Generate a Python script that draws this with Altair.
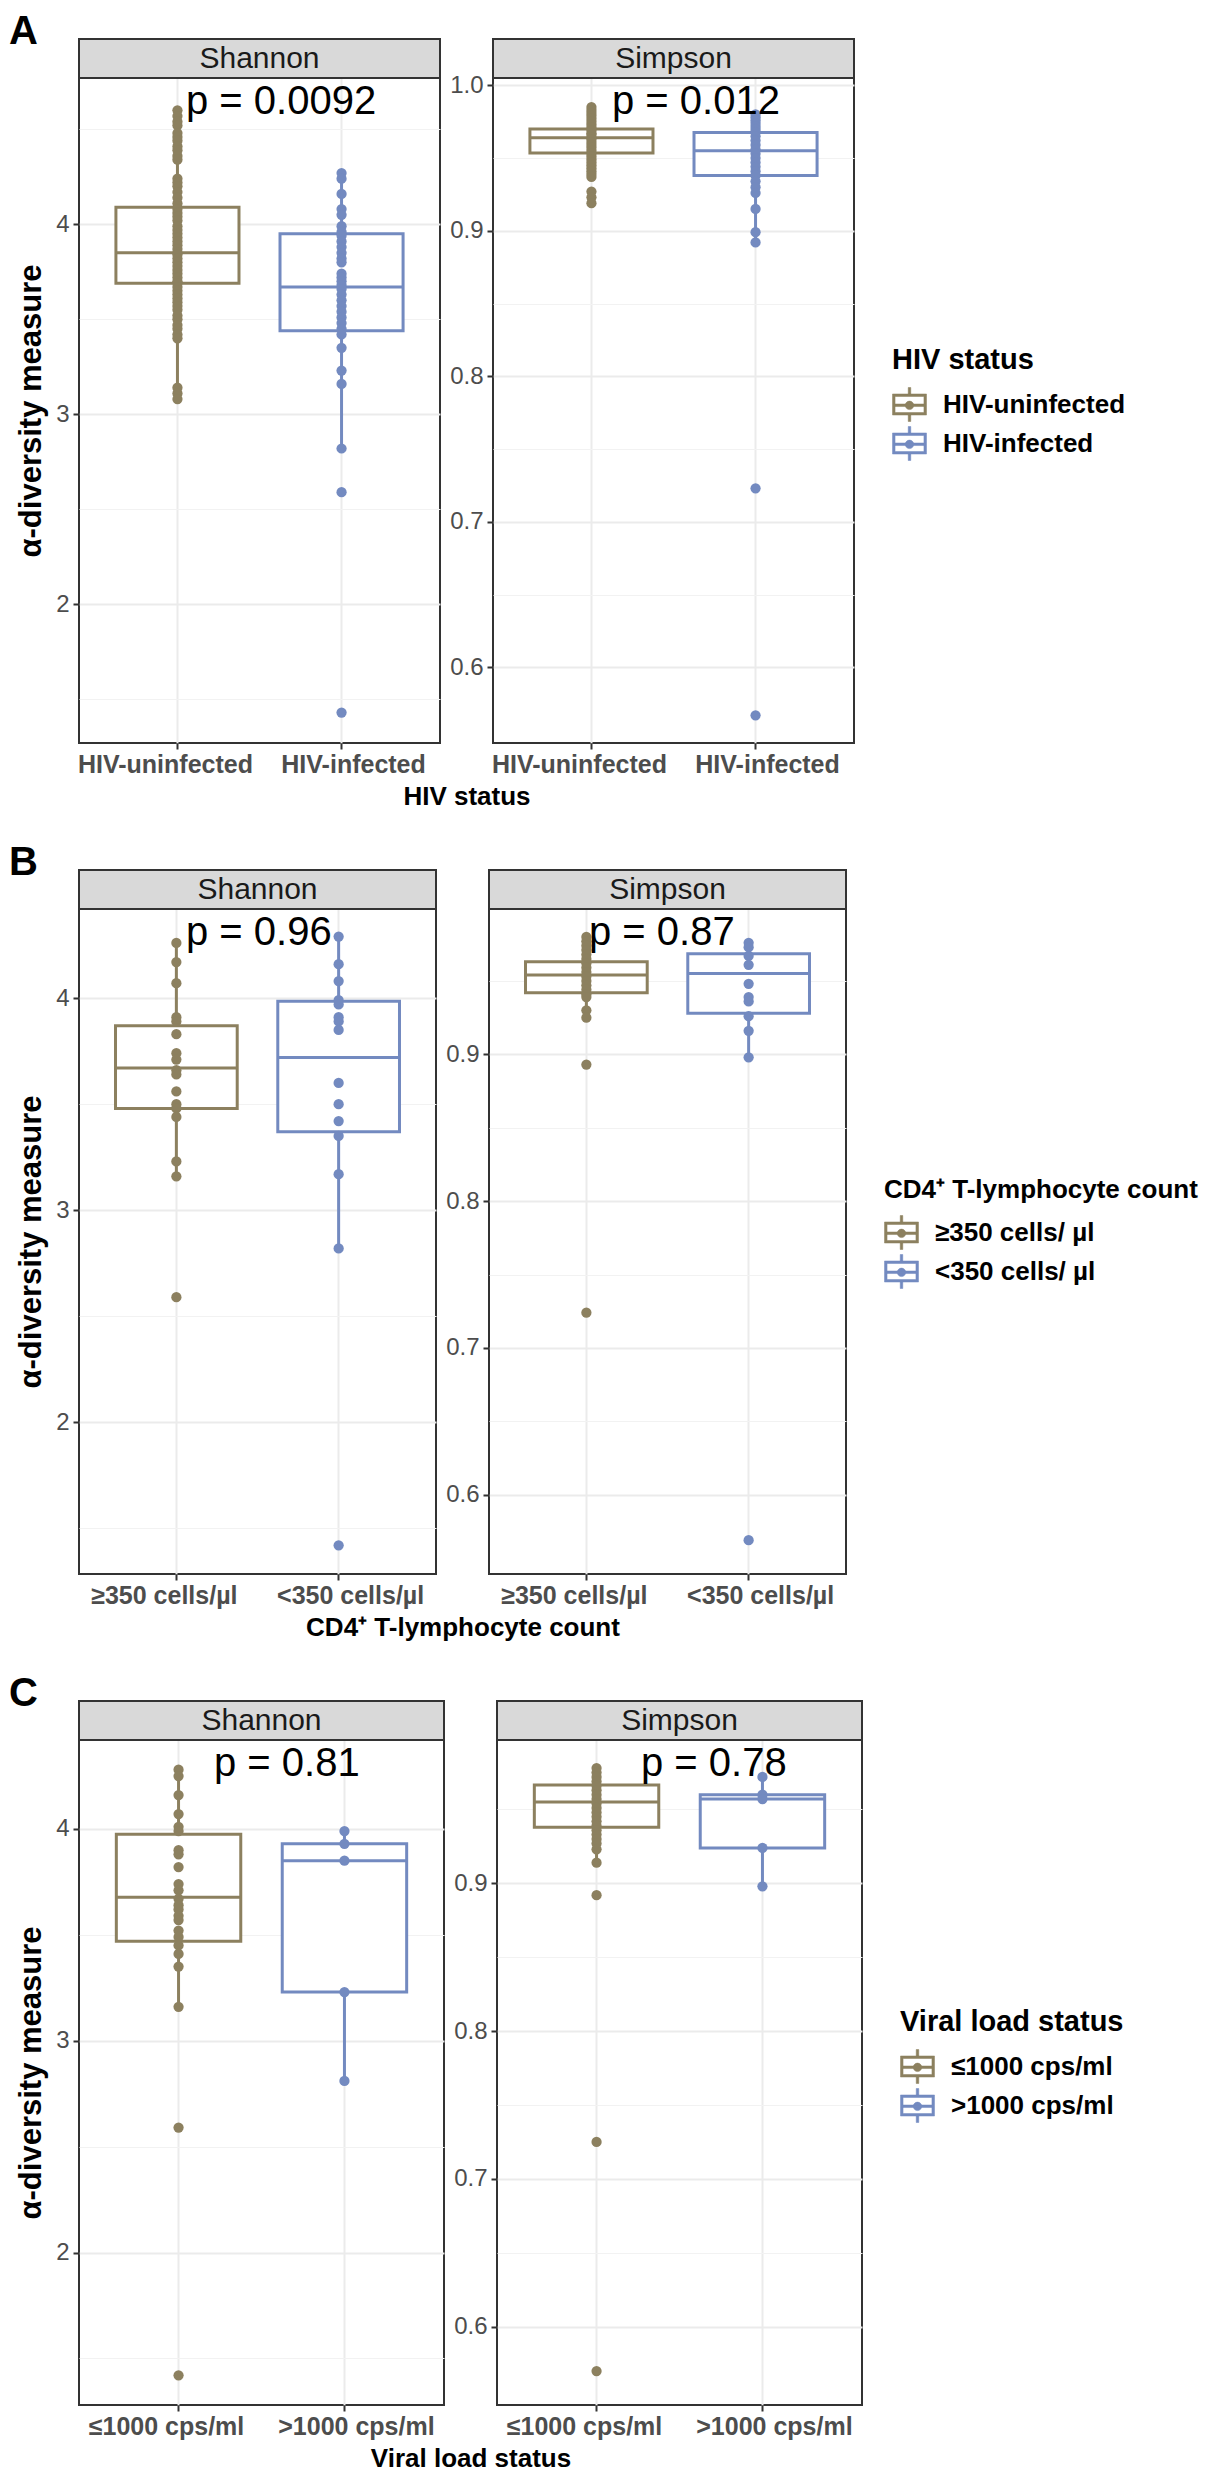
import altair as alt
import pandas as pd

# ---------------- data ----------------
hiv_groups = ["HIV-uninfected", "HIV-infected"]
cd4_groups = ["≥350 cells/µl", "<350 cells/µl"]
vl_groups = ["≤1000 cps/ml", ">1000 cps/ml"]
colors = ["#8C805F", "#738AC0"]

# Panel A
a_sh_uninf = [4.60, 4.57, 4.54, 4.52, 4.48, 4.46, 4.44, 4.41, 4.39, 4.36, 4.34, 4.24, 4.22, 4.20,
              4.17, 4.14, 4.11, 4.08, 4.06, 4.04, 4.02, 3.99, 3.97, 3.95, 3.93, 3.91, 3.89, 3.87,
              3.85, 3.84, 3.82, 3.80, 3.78, 3.76, 3.74, 3.72, 3.70, 3.69, 3.67, 3.65, 3.63, 3.61,
              3.59, 3.57, 3.55, 3.52, 3.50, 3.47, 3.45, 3.42, 3.40, 3.14, 3.11, 3.08]
a_sh_inf = [4.27, 4.24, 4.16, 4.08, 4.05, 3.99, 3.96, 3.94, 3.91, 3.88, 3.85, 3.82, 3.80, 3.74,
            3.72, 3.70, 3.68, 3.66, 3.63, 3.60, 3.57, 3.54, 3.51, 3.48, 3.45, 3.42, 3.35, 3.23,
            3.16, 2.82, 2.59, 1.43]
a_si_uninf = [0.985, 0.983, 0.981, 0.979, 0.977, 0.975, 0.973, 0.971, 0.969, 0.967, 0.966, 0.964,
              0.963, 0.961, 0.959, 0.957, 0.955, 0.953, 0.951, 0.949, 0.947, 0.945, 0.943, 0.941,
              0.939, 0.937, 0.927, 0.923, 0.919]
a_si_inf = [0.980, 0.978, 0.976, 0.974, 0.972, 0.970, 0.968, 0.965, 0.962, 0.959, 0.956, 0.953,
            0.950, 0.947, 0.944, 0.941, 0.938, 0.934, 0.930, 0.926, 0.915, 0.899, 0.892, 0.723, 0.567]
# box stats: q1, median, q3, whisker low, whisker high
a_sh_stats = [[3.69, 3.85, 4.09, 3.07, 4.60], [3.44, 3.67, 3.95, 2.82, 4.27]]
a_si_stats = [[0.9535, 0.964, 0.970, 0.935, 0.985], [0.938, 0.955, 0.9675, 0.892, 0.980]]

# Panel B
b_sh_hi = [4.26, 4.17, 4.07, 3.91, 3.89, 3.83, 3.74, 3.71, 3.66, 3.64, 3.56, 3.50, 3.48, 3.44,
           3.23, 3.16, 2.59]
b_sh_lo = [4.29, 4.16, 4.08, 3.99, 3.97, 3.91, 3.89, 3.85, 3.60, 3.50, 3.42, 3.35, 3.17, 2.82, 1.42]
b_si_hi = [0.980, 0.977, 0.974, 0.971, 0.968, 0.965, 0.962, 0.959, 0.956, 0.953, 0.950, 0.947,
           0.944, 0.941, 0.939, 0.930, 0.925, 0.893, 0.724]
b_si_lo = [0.976, 0.973, 0.967, 0.961, 0.948, 0.939, 0.936, 0.926, 0.916, 0.898, 0.569]
b_sh_stats = [[3.48, 3.67, 3.87, 3.16, 4.26], [3.37, 3.72, 3.985, 2.82, 4.29]]
b_si_stats = [[0.942, 0.954, 0.963, 0.925, 0.980], [0.928, 0.955, 0.9686, 0.898, 0.976]]

# Panel C
c_sh_le = [4.28, 4.25, 4.16, 4.07, 4.01, 3.99, 3.90, 3.88, 3.82, 3.74, 3.71, 3.67, 3.64, 3.62,
           3.59, 3.57, 3.52, 3.49, 3.45, 3.41, 3.35, 3.16, 2.59, 1.42]
c_sh_gt = [3.99, 3.93, 3.85, 3.23, 2.81]
c_si_le = [0.978, 0.975, 0.972, 0.969, 0.966, 0.963, 0.960, 0.957, 0.954, 0.951, 0.948, 0.945,
           0.942, 0.939, 0.936, 0.933, 0.930, 0.927, 0.923, 0.914, 0.892, 0.725, 0.570]
c_si_gt = [0.972, 0.960, 0.957, 0.924, 0.898]
c_sh_stats = [[3.47, 3.677, 3.975, 3.16, 4.28], [3.23, 3.85, 3.93, 2.81, 3.99]]
c_si_stats = [[0.938, 0.955, 0.9665, 0.914, 0.978], [0.924, 0.957, 0.960, 0.898, 0.972]]

# axis ranges and tick values
a_sh_domain, a_si_domain = [1.27, 4.77], [0.548, 1.005]
b_sh_domain, b_si_domain = [1.285, 4.42], [0.546, 0.999]
c_sh_domain, c_si_domain = [1.28, 4.42], [0.547, 0.997]
sh_ticks_a = [1.5, 2, 2.5, 3, 3.5, 4, 4.5]
sh_ticks_bc = [1.5, 2, 2.5, 3, 3.5, 4]
si_ticks_a = [0.6, 0.65, 0.7, 0.75, 0.8, 0.85, 0.9, 0.95, 1.0]
si_ticks_bc = [0.6, 0.65, 0.7, 0.75, 0.8, 0.85, 0.9, 0.95]

p_labels = {"A": ["p = 0.0092", "p = 0.012"], "B": ["p = 0.96", "p = 0.87"], "C": ["p = 0.81", "p = 0.78"]}

# ---------------- layout / style ----------------
FONT = "Liberation Sans"
H = 665
GAP = 53
STRIP = 39
LW = 3
# boxplot glyph for the legend, built from filled pieces (ring box, median bar, whisker stubs, dot)
BOX_PATH = ("M-1,-0.62H1V0.62H-1Z "
            "M-0.85,-0.47V0.47H0.85V-0.47Z "
            "M-0.85,-0.03H0.85V0.12H-0.85Z "
            "M-0.075,-1H0.075V-0.62H-0.075Z "
            "M-0.075,0.62H0.075V1H-0.075Z "
            "M-0.25,0.05a0.25,0.25 0 1,1 0.5,0a0.25,0.25 0 1,1 -0.5,0Z")


def panel(groups, vals, stats, domain, yticks, kind, W, strip, ptext, px,
          letter=None, ytitle=None, xtitle=None, legend=None):
    pts = pd.DataFrame({"group": [g for g, v in zip(groups, vals) for _ in v],
                        "value": [x for v in vals for x in v]})
    pts["grp"] = pts["group"]
    st = pd.DataFrame({"group": groups,
                       "q1": [s[0] for s in stats], "med": [s[1] for s in stats],
                       "q3": [s[2] for s in stats], "lo": [s[3] for s in stats],
                       "hi": [s[4] for s in stats]})
    if kind == "shannon":
        major = "datum.value % 1 == 0"
        fmt = "format(datum.value, 'd')"
    else:
        major = "abs(datum.value * 10 - round(datum.value * 10)) < 0.001"
        fmt = "format(datum.value, '.1f')"

    ykw = dict(values=yticks, labelExpr=f"{major} ? {fmt} : ''",
               gridWidth=alt.condition(major, alt.value(2), alt.value(1)),
               gridColor=alt.condition(major, alt.value("#EBEBEB"), alt.value("#F2F2F2")),
               tickOpacity=alt.condition(major, alt.value(1), alt.value(0)),
               labelFontSize=24, labelColor="#4D4D4D", tickSize=6, tickWidth=2,
               tickColor="#333333", labelPadding=4, domain=False, grid=True)
    if ytitle:
        ykw.update(title=ytitle, titleFontSize=31, titleFontWeight="bold",
                   titleColor="black", titlePadding=8)
    else:
        ykw.update(title=None)
    yaxis = alt.Axis(**ykw)

    xkw = dict(labelAngle=0, labelFontSize=25, labelFontWeight="bold", labelColor="#4D4D4D",
               labelOffset=alt.condition("datum.index < 0.5", alt.value(-12), alt.value(12)),
               labelLimit=400, tickSize=6, tickWidth=2, tickColor="#333333", labelPadding=3,
               grid=True, gridColor="#EBEBEB", gridWidth=2, domain=False)
    if xtitle:
        xkw.update(title=xtitle, titleX=(2 * W + GAP) / 2, titleFontSize=26,
                   titleFontWeight="bold", titleColor="black", titlePadding=6)
    else:
        xkw.update(title=None)
    xaxis = alt.Axis(**xkw)

    xs = alt.Scale(type="band", domain=groups, paddingInner=0.25, paddingOuter=0.225)
    ys = alt.Scale(domain=domain, nice=False, zero=False)
    X = alt.X("group:N", scale=xs, axis=xaxis, sort=groups)
    stroke = alt.Stroke("group:N", scale=alt.Scale(domain=groups, range=colors),
                        sort=groups, legend=legend)
    fill = alt.Fill("grp:N", scale=alt.Scale(domain=groups, range=colors), legend=None)

    sdf = pd.DataFrame({"t": [strip]})
    strip_rect = alt.Chart(sdf).mark_rect(fill="#D9D9D9", stroke="#333333", strokeWidth=2).encode(
        x=alt.value(0), x2=alt.value(W), y=alt.value(-STRIP), y2=alt.value(0))
    strip_text = alt.Chart(sdf).mark_text(fontSize=30, color="#1A1A1A", baseline="middle").encode(
        x=alt.value(W / 2), y=alt.value(-STRIP / 2), text="t:N")

    whisk = alt.Chart(st).mark_rule(strokeWidth=LW).encode(
        x=X, y=alt.Y("lo:Q", scale=ys, axis=yaxis), y2="hi:Q", stroke=stroke)
    box = alt.Chart(st).mark_bar(fill="white", strokeWidth=LW).encode(
        x=X, y=alt.Y("q1:Q", scale=ys, axis=yaxis), y2="q3:Q", stroke=stroke)
    med = alt.Chart(st).mark_bar(fill="white", strokeWidth=LW).encode(
        x=X, y=alt.Y("med:Q", scale=ys, axis=yaxis), y2="med:Q", stroke=stroke)
    points = alt.Chart(pts).mark_circle(size=105, opacity=1).encode(
        x=X, y=alt.Y("value:Q", scale=ys, axis=yaxis), fill=fill)
    ptxt = alt.Chart(pd.DataFrame({"t": [ptext]})).mark_text(
        fontSize=40, align="left", baseline="middle", color="black").encode(
        x=alt.value(px), y=alt.value(24), text="t:N")

    layers = [strip_rect, strip_text, whisk, box, med, points, ptxt]
    if letter:
        layers.append(alt.Chart(pd.DataFrame({"t": [letter]})).mark_text(
            fontSize=40, fontWeight="bold", align="left", baseline="middle", color="black").encode(
            x=alt.value(-70), y=alt.value(-46), text="t:N"))
    return alt.layer(*layers).properties(width=W, height=H)


def make_legend(title, W, ly, title_size, label_expr=None):
    kw = dict(orient="none", legendX=W + 38, legendY=ly, direction="vertical", title=title,
              titleFontSize=title_size, titleFontWeight="bold", titleColor="black",
              titlePadding=12, titleLimit=600, labelFontSize=26, labelFontWeight="bold",
              labelColor="black", labelLimit=600, labelOffset=16, rowPadding=2,
              symbolType=BOX_PATH, symbolSize=1156, symbolStrokeWidth=0.5,
              symbolFillColor="white")
    if label_expr:
        kw["labelExpr"] = label_expr
    return alt.Legend(**kw)


def row(letter, groups, sh_vals, sh_stats, sh_dom, sh_ticks, si_vals, si_stats, si_dom, si_ticks,
        W, xtitle, leg_title, leg_size, p_x, leg_label_expr=None):
    sh = panel(groups, sh_vals, sh_stats, sh_dom, sh_ticks, "shannon", W, "Shannon",
               p_labels[letter][0], p_x[0], letter=letter, ytitle="α-diversity measure",
               xtitle=xtitle, legend=None)
    si = panel(groups, si_vals, si_stats, si_dom, si_ticks, "simpson", W, "Simpson",
               p_labels[letter][1], p_x[1],
               legend=make_legend(leg_title, W, 268, leg_size, leg_label_expr))
    return alt.hconcat(sh, si, spacing=GAP, bounds="flush").resolve_scale(
        stroke="independent", fill="independent", x="independent", y="independent")


rowA = row("A", hiv_groups, [a_sh_uninf, a_sh_inf], a_sh_stats, a_sh_domain, sh_ticks_a,
           [a_si_uninf, a_si_inf], a_si_stats, a_si_domain, si_ticks_a,
           361, "HIV status", "HIV status", 29, [107, 119])
rowB = row("B", cd4_groups, [b_sh_hi, b_sh_lo], b_sh_stats, b_sh_domain, sh_ticks_bc,
           [b_si_hi, b_si_lo], b_si_stats, b_si_domain, si_ticks_bc,
           357, "CD4⁺ T-lymphocyte count", "CD4⁺ T-lymphocyte count", 26, [107, 100],
           leg_label_expr="replace(datum.label, '/', '/ ')")
rowC = row("C", vl_groups, [c_sh_le, c_sh_gt], c_sh_stats, c_sh_domain, sh_ticks_bc,
           [c_si_le, c_si_gt], c_si_stats, c_si_domain, si_ticks_bc,
           365, "Viral load status", "Viral load status", 29, [135, 144])

chart = alt.vconcat(rowA, rowB, rowC, spacing=32).resolve_scale(
    stroke="independent", fill="independent").properties(
    padding={"left": 0, "top": 3, "right": 0, "bottom": 0}).configure(
    font=FONT).configure_view(stroke="#333333", strokeWidth=2)

chart.save("out.html", embed_options={"renderer": "svg", "actions": False})
